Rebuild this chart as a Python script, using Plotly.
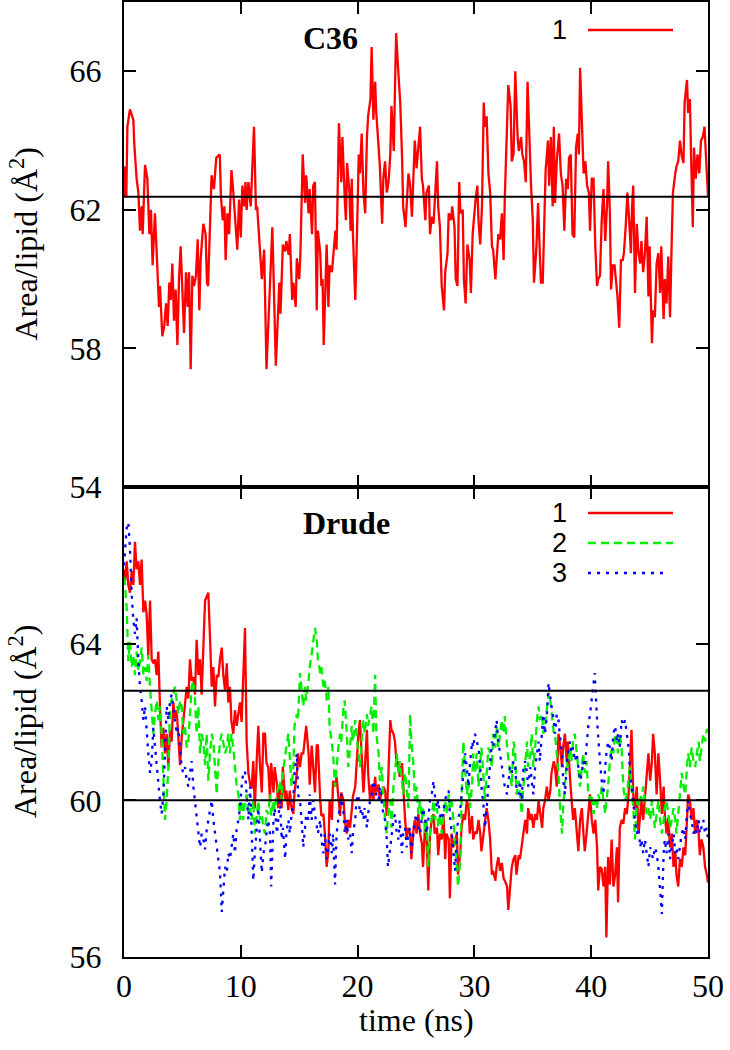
import plotly.graph_objects as go

# ---------------- data (time in ns, area per lipid in A^2) ----------------
c36_run1 = [(0.0,62.4),(0.09,63.25),(0.2,62.4),(0.29,64.4),(0.51,64.9),(0.66,64.7),(0.8,64.6),(0.88,63.9),(1.08,62.9),(1.23,62.5),(1.37,61.4),(1.51,62.1),(1.6,61.3),(1.8,63.3),(2.0,62.9),(2.17,61.3),(2.31,62.0),(2.45,60.4),(2.65,61.9),(2.8,60.75),(3.0,59.2),(3.08,59.8),(3.28,58.35),(3.45,58.65),(3.6,59.3),(3.74,58.65),(3.88,59.9),(4.0,59.4),(4.14,60.45),(4.28,58.8),(4.42,59.7),(4.57,58.1),(4.71,60.0),(4.85,60.95),(4.99,59.8),(5.14,58.45),(5.31,60.2),(5.45,59.2),(5.57,60.2),(5.71,57.4),(5.85,60.1),(6.0,59.8),(6.16,60.1),(6.31,61.15),(6.45,59.1),(6.56,60.55),(6.79,61.6),(6.99,61.3),(7.1,59.9),(7.2,59.8),(7.36,61.5),(7.5,63.0),(7.7,62.6),(7.9,63.5),(8.2,63.6),(8.3,62.4),(8.45,61.7),(8.6,62.1),(8.7,60.55),(8.85,61.9),(9.0,61.3),(9.2,63.15),(9.36,62.5),(9.5,61.7),(9.7,60.85),(9.85,62.3),(10.0,61.2),(10.13,62.7),(10.3,62.1),(10.4,62.8),(10.5,62.0),(10.65,62.8),(10.85,62.1),(11.13,64.4),(11.3,62.0),(11.4,62.1),(11.8,60.0),(12.0,60.85),(12.2,57.4),(12.7,61.5),(13.0,57.5),(13.3,59.9),(13.4,59.0),(13.6,61.0),(13.8,60.8),(13.9,61.1),(14.1,60.7),(14.2,61.3),(14.4,59.4),(14.5,59.9),(14.7,59.2),(14.8,60.6),(15.0,60.0),(15.1,60.7),(15.3,63.6),(15.5,62.2),(15.6,63.0),(15.8,61.9),(15.9,62.6),(16.1,61.3),(16.2,62.7),(16.35,62.8),(16.5,59.1),(16.6,61.4),(16.8,60.75),(16.9,59.8),(17.0,60.0),(17.1,58.1),(17.35,61.0),(17.5,59.2),(17.6,60.4),(17.8,60.2),(18.1,61.4),(18.2,60.85),(18.4,64.5),(18.6,62.8),(18.7,64.1),(18.9,62.3),(19.0,61.7),(19.1,63.35),(19.3,62.5),(19.4,61.4),(19.5,62.9),(19.6,61.3),(19.8,59.4),(19.9,60.6),(20.1,63.6),(20.2,63.05),(20.35,64.2),(20.5,62.5),(20.65,61.9),(20.8,64.1),(20.9,64.7),(21.1,65.2),(21.2,66.7),(21.35,64.6),(21.5,65.7),(21.6,64.8),(21.8,63.6),(21.9,63.3),(22.1,61.6),(22.2,62.9),(22.35,63.4),(22.5,62.5),(22.65,62.8),(22.8,63.6),(22.9,65.0),(23.1,63.7),(23.2,65.5),(23.3,67.1),(23.5,65.9),(23.65,65.1),(23.8,63.6),(23.9,62.1),(24.1,61.5),(24.2,62.3),(24.35,63.05),(24.5,62.7),(24.65,61.8),(24.8,63.15),(24.9,64.0),(25.05,63.2),(25.2,63.8),(25.35,64.4),(25.5,62.9),(25.6,62.7),(25.8,61.7),(25.9,62.5),(26.1,62.7),(26.2,61.3),(26.35,61.8),(26.5,61.6),(26.6,62.2),(26.8,63.4),(26.9,62.1),(27.05,61.5),(27.2,59.8),(27.4,59.1),(27.5,60.2),(27.7,60.75),(27.8,61.9),(28.0,61.7),(28.1,62.1),(28.3,61.5),(28.4,60.0),(28.55,59.8),(28.7,62.8),(28.8,61.9),(29.0,62.0),(29.1,60.0),(29.25,59.3),(29.4,61.0),(29.6,60.55),(29.7,59.6),(29.85,61.3),(30.0,62.1),(30.1,62.3),(30.25,62.7),(30.35,61.7),(30.5,61.0),(30.65,62.1),(30.8,65.1),(30.9,64.4),(31.05,64.7),(31.2,63.05),(31.35,62.5),(31.5,60.95),(31.6,60.85),(31.8,60.0),(31.9,60.55),(32.05,61.3),(32.2,61.15),(32.35,61.9),(32.5,60.55),(32.6,62.3),(32.8,64.5),(32.9,65.6),(33.1,65.0),(33.2,63.4),(33.35,63.6),(33.5,66.0),(33.7,64.1),(33.8,63.7),(34.0,64.1),(34.1,63.6),(34.25,63.4),(34.4,62.8),(34.55,65.7),(34.7,64.1),(34.85,62.7),(35.0,61.7),(35.1,59.9),(35.3,60.85),(35.45,62.2),(35.6,60.75),(35.7,59.9),(35.85,59.9),(36.0,61.5),(36.1,63.15),(36.3,64.0),(36.4,62.7),(36.55,64.1),(36.7,62.1),(36.8,64.4),(36.9,62.2),(37.05,63.4),(37.25,64.2),(37.4,63.05),(37.55,62.7),(37.7,61.4),(37.85,62.9),(38.0,62.6),(38.1,63.5),(38.25,63.6),(38.4,61.3),(38.55,61.2),(38.7,63.8),(38.85,64.2),(38.95,63.6),(39.05,66.1),(39.2,64.3),(39.35,63.05),(39.5,63.4),(39.65,62.7),(39.8,62.5),(39.9,61.4),(40.05,62.9),(40.2,62.9),(40.35,60.95),(40.5,59.8),(40.6,60.0),(40.75,60.1),(40.9,61.7),(41.05,62.6),(41.2,61.1),(41.35,62.1),(41.45,63.4),(41.6,61.9),(41.7,59.7),(41.85,60.4),(42.0,60.4),(42.1,60.1),(42.25,59.5),(42.4,58.6),(42.55,60.55),(42.7,60.55),(42.8,60.75),(42.95,61.5),(43.1,62.5),(43.25,61.7),(43.4,60.75),(43.5,62.1),(43.6,62.7),(43.75,59.6),(43.9,61.6),(44.05,60.75),(44.2,60.45),(44.3,61.1),(44.45,60.2),(44.6,60.75),(44.75,61.8),(44.9,59.5),(45.0,60.95),(45.2,58.15),(45.3,59.1),(45.45,58.9),(45.6,60.45),(45.75,60.75),(45.9,59.6),(46.0,60.95),(46.2,58.85),(46.3,60.0),(46.45,59.3),(46.6,60.65),(46.75,58.9),(46.9,61.2),(47.0,62.5),(47.2,63.05),(47.3,63.25),(47.45,63.4),(47.6,64.0),(47.75,63.55),(47.9,63.35),(48.0,65.1),(48.2,65.75),(48.3,64.8),(48.45,65.2),(48.55,63.6),(48.7,61.5),(48.8,63.8),(48.95,62.9),(49.1,63.6),(49.25,63.05),(49.4,64.0),(49.55,64.1),(49.7,64.4),(49.85,63.25),(50.0,62.4)]

drude_run1 = [(0.0,65.9),(0.09,65.6),(0.23,66.1),(0.37,65.5),(0.51,65.3),(0.66,65.85),(0.8,65.5),(0.94,66.6),(1.08,65.9),(1.23,66.1),(1.37,65.5),(1.51,66.15),(1.66,64.8),(1.8,65.1),(1.94,64.75),(2.08,63.7),(2.23,65.1),(2.37,63.6),(2.51,63.5),(2.65,63.6),(2.8,63.2),(2.94,63.8),(3.08,62.4),(3.22,61.35),(3.37,61.85),(3.51,61.2),(3.65,61.7),(3.8,60.85),(3.94,61.8),(4.08,61.5),(4.22,62.5),(4.37,62.1),(4.51,62.3),(4.65,61.7),(4.8,60.9),(4.94,61.6),(5.08,62.0),(5.22,62.5),(5.37,62.9),(5.51,62.6),(5.65,63.6),(5.79,63.05),(5.94,63.15),(6.08,62.7),(6.22,64.1),(6.37,63.2),(6.51,63.6),(6.65,62.7),(6.79,63.8),(6.94,65.1),(7.08,65.2),(7.22,65.3),(7.37,64.1),(7.51,62.9),(7.65,63.4),(7.79,62.4),(7.94,63.2),(8.08,63.15),(8.22,63.6),(8.37,63.9),(8.5,63.2),(8.65,62.8),(8.8,63.5),(8.93,62.5),(9.07,62.9),(9.2,62.0),(9.36,61.7),(9.5,62.3),(9.65,61.9),(9.8,62.2),(9.93,62.5),(10.07,62.0),(10.2,62.9),(10.36,64.4),(10.5,61.5),(10.65,60.7),(10.8,60.4),(10.93,60.3),(11.07,61.0),(11.2,59.8),(11.36,61.0),(11.5,61.9),(11.64,60.9),(11.8,60.2),(11.93,61.7),(12.07,61.7),(12.2,60.95),(12.35,60.85),(12.5,60.0),(12.6,60.95),(12.8,60.2),(12.9,60.85),(13.1,60.4),(13.2,59.8),(13.35,60.3),(13.5,59.8),(13.6,60.85),(13.8,60.0),(13.9,60.25),(14.07,59.75),(14.2,60.25),(14.35,59.8),(14.5,59.65),(14.6,60.2),(14.8,60.7),(14.9,61.2),(15.07,60.85),(15.2,61.2),(15.35,61.2),(15.5,61.7),(15.6,61.9),(15.8,61.2),(15.9,60.4),(16.07,61.4),(16.2,60.85),(16.35,60.2),(16.5,61.4),(16.6,61.4),(16.8,60.0),(16.9,59.6),(17.07,59.65),(17.2,59.15),(17.35,58.3),(17.5,58.7),(17.6,60.0),(17.8,59.5),(17.9,60.5),(18.07,60.35),(18.2,60.6),(18.35,60.0),(18.5,59.6),(18.6,60.2),(18.8,60.0),(18.9,59.5),(19.07,59.15),(19.2,59.5),(19.35,59.3),(19.5,59.75),(19.6,60.1),(19.8,60.35),(19.9,61.0),(20.07,61.7),(20.2,62.05),(20.35,61.2),(20.5,60.2),(20.6,60.7),(20.8,61.8),(20.9,60.7),(21.07,60.0),(21.2,60.4),(21.35,60.0),(21.5,60.6),(21.6,60.2),(21.8,60.4),(21.9,60.0),(22.07,60.2),(22.2,60.35),(22.35,60.25),(22.5,59.6),(22.6,60.35),(22.8,62.05),(22.9,61.8),(23.07,61.7),(23.2,61.5),(23.35,60.85),(23.5,61.0),(23.6,60.6),(23.8,60.95),(23.9,60.25),(24.07,59.5),(24.2,59.0),(24.35,59.3),(24.5,59.15),(24.6,58.5),(24.8,59.3),(24.9,59.5),(25.05,59.15),(25.2,59.65),(25.35,59.15),(25.5,58.9),(25.6,58.3),(25.8,59.5),(25.9,59.15),(26.05,57.7),(26.2,59.15),(26.35,59.5),(26.5,59.65),(26.6,59.15),(26.8,59.3),(26.9,58.6),(27.05,59.15),(27.2,59.0),(27.35,59.65),(27.5,58.5),(27.6,59.15),(27.8,59.0),(27.9,57.5),(28.05,59.15),(28.2,58.8),(28.35,59.0),(28.5,59.15),(28.6,58.1),(28.8,58.7),(28.9,59.3),(29.05,59.65),(29.2,59.5),(29.35,60.0),(29.5,59.8),(29.6,59.15),(29.8,59.6),(29.9,59.0),(30.05,59.2),(30.2,59.15),(30.35,59.5),(30.5,59.15),(30.6,58.7),(30.8,59.15),(30.9,59.5),(31.05,59.8),(31.2,59.5),(31.35,59.0),(31.5,58.1),(31.6,58.2),(31.8,57.95),(31.9,58.3),(32.05,58.55),(32.2,58.2),(32.35,58.4),(32.5,58.0),(32.6,57.95),(32.8,57.8),(32.9,57.2),(33.05,57.8),(33.2,58.3),(33.35,58.5),(33.5,58.6),(33.6,58.1),(33.8,58.6),(33.9,58.5),(34.05,58.8),(34.2,59.15),(34.35,59.5),(34.5,59.15),(34.6,59.8),(34.8,59.5),(34.9,59.65),(35.05,59.3),(35.2,59.65),(35.35,59.5),(35.5,60.0),(35.6,59.75),(35.8,59.3),(35.9,59.8),(36.05,60.0),(36.2,60.35),(36.35,60.0),(36.5,60.25),(36.6,60.7),(36.8,61.0),(36.9,60.85),(37.05,60.35),(37.2,61.7),(37.3,61.5),(37.5,60.85),(37.6,61.35),(37.75,61.7),(37.9,61.0),(38.0,61.5),(38.2,60.5),(38.3,60.0),(38.45,59.5),(38.6,59.8),(38.75,59.15),(38.9,58.7),(39.05,59.5),(39.2,59.8),(39.3,59.3),(39.45,58.7),(39.6,59.15),(39.75,59.65),(39.9,60.15),(40.05,59.5),(40.2,59.15),(40.35,59.5),(40.5,58.8),(40.6,57.7),(40.75,58.3),(40.9,58.25),(41.05,57.8),(41.2,58.3),(41.3,56.5),(41.45,58.55),(41.6,57.85),(41.75,59.0),(41.9,57.8),(42.05,58.1),(42.2,58.8),(42.3,57.4),(42.45,59.3),(42.6,59.5),(42.75,59.4),(42.9,59.8),(43.05,59.65),(43.2,60.15),(43.3,60.7),(43.45,61.8),(43.6,60.15),(43.75,59.75),(43.9,60.35),(44.05,59.15),(44.2,59.65),(44.3,60.0),(44.45,59.5),(44.6,60.15),(44.75,60.7),(44.9,61.2),(45.05,60.5),(45.2,61.0),(45.3,61.7),(45.45,61.2),(45.6,60.15),(45.75,61.2),(45.9,60.5),(46.05,59.65),(46.2,60.35),(46.3,59.65),(46.45,59.15),(46.6,59.55),(46.75,58.8),(46.9,59.15),(47.05,58.3),(47.2,58.7),(47.3,58.1),(47.45,57.8),(47.6,58.5),(47.75,58.3),(47.9,58.8),(48.05,58.6),(48.2,59.5),(48.3,60.15),(48.45,60.0),(48.6,59.5),(48.75,59.8),(48.9,59.15),(49.05,59.5),(49.2,59.15),(49.3,58.6),(49.45,59.0),(49.6,58.8),(49.75,58.3),(49.9,58.1),(50.0,57.9)]

drude_run2 = [(0.0,65.7),(0.09,65.5),(0.23,64.9),(0.37,63.55),(0.51,64.05),(0.66,63.4),(0.8,63.7),(0.94,63.2),(1.08,63.8),(1.23,63.3),(1.37,63.55),(1.51,63.9),(1.66,63.2),(1.8,63.4),(1.94,63.05),(2.08,63.7),(2.23,62.9),(2.37,62.4),(2.51,61.7),(2.65,62.2),(2.8,62.55),(2.94,62.05),(3.08,62.4),(3.22,61.7),(3.37,60.35),(3.51,59.5),(3.65,60.0),(3.8,60.85),(3.94,62.4),(4.08,62.55),(4.22,62.7),(4.37,62.9),(4.51,62.55),(4.65,62.2),(4.8,62.55),(4.94,62.4),(5.08,61.7),(5.22,61.9),(5.37,61.35),(5.51,61.5),(5.65,62.2),(5.79,62.9),(5.94,63.05),(6.08,62.55),(6.22,61.7),(6.37,62.4),(6.51,61.2),(6.65,61.7),(6.79,61.5),(6.94,60.9),(7.08,61.7),(7.22,60.5),(7.37,61.2),(7.51,61.7),(7.65,61.5),(7.79,60.85),(7.94,60.15),(8.08,61.0),(8.22,61.5),(8.37,61.7),(8.5,61.5),(8.65,61.2),(8.8,61.35),(8.93,61.7),(9.07,61.2),(9.2,61.7),(9.36,61.35),(9.5,60.85),(9.65,60.35),(9.8,60.15),(9.93,59.5),(10.07,60.0),(10.2,59.5),(10.36,60.0),(10.5,60.15),(10.65,59.65),(10.8,59.8),(10.93,59.5),(11.07,60.0),(11.2,59.15),(11.36,59.65),(11.5,60.0),(11.64,59.5),(11.8,59.65),(11.93,59.3),(12.07,59.15),(12.2,59.75),(12.35,59.65),(12.5,60.15),(12.6,59.6),(12.8,60.0),(12.9,59.75),(13.1,60.15),(13.2,60.35),(13.35,60.5),(13.5,60.0),(13.6,60.7),(13.8,61.2),(13.9,61.35),(14.07,61.7),(14.2,61.0),(14.35,60.35),(14.5,60.85),(14.6,61.9),(14.8,62.2),(14.9,62.05),(15.07,63.25),(15.2,62.75),(15.35,62.4),(15.5,62.9),(15.6,62.55),(15.8,63.05),(15.9,63.4),(16.07,63.75),(16.2,64.1),(16.35,64.4),(16.5,64.1),(16.6,63.6),(16.8,63.25),(16.9,63.4),(17.07,62.9),(17.2,63.05),(17.35,62.55),(17.5,62.9),(17.6,61.9),(17.8,61.5),(17.9,61.2),(18.07,60.35),(18.2,60.85),(18.35,61.35),(18.5,61.7),(18.6,61.5),(18.8,62.4),(18.9,62.55),(19.07,61.7),(19.2,60.85),(19.35,61.35),(19.5,61.9),(19.6,61.5),(19.8,62.05),(19.9,61.7),(20.07,61.2),(20.2,60.85),(20.35,61.5),(20.5,62.05),(20.6,61.7),(20.8,62.2),(20.9,61.9),(21.07,62.2),(21.2,62.4),(21.35,61.7),(21.5,63.2),(21.6,61.7),(21.8,61.2),(21.9,60.5),(22.07,60.85),(22.2,60.15),(22.35,59.5),(22.5,59.15),(22.6,59.65),(22.8,60.0),(22.9,59.3),(23.07,60.35),(23.2,60.7),(23.35,61.2),(23.5,60.7),(23.6,61.0),(23.8,60.5),(23.9,60.15),(24.07,60.7),(24.2,60.35),(24.35,59.8),(24.5,62.2),(24.6,61.5),(24.8,60.85),(24.9,60.0),(25.05,60.35),(25.2,59.65),(25.35,60.0),(25.5,59.5),(25.6,59.8),(25.8,59.15),(25.9,59.5),(26.05,58.3),(26.2,59.15),(26.35,59.65),(26.5,60.0),(26.6,59.5),(26.8,59.8),(26.9,59.3),(27.05,59.65),(27.2,59.15),(27.35,59.5),(27.5,60.0),(27.6,59.65),(27.8,60.15),(27.9,59.8),(28.05,60.0),(28.2,59.5),(28.35,59.0),(28.5,58.3),(28.6,57.8),(28.8,58.5),(28.9,60.0),(29.05,61.5),(29.2,60.85),(29.35,60.15),(29.5,60.5),(29.6,59.8),(29.8,60.35),(29.9,61.2),(30.05,60.7),(30.2,61.2),(30.35,60.35),(30.5,61.0),(30.6,61.35),(30.8,60.5),(30.9,60.0),(31.05,60.7),(31.2,61.35),(31.35,61.2),(31.5,60.85),(31.6,61.7),(31.8,61.35),(31.9,61.9),(32.05,61.35),(32.2,61.7),(32.35,62.05),(32.5,61.7),(32.6,62.15),(32.8,61.35),(32.9,61.0),(33.05,60.7),(33.2,60.35),(33.35,61.5),(33.5,61.2),(33.6,60.15),(33.8,60.5),(33.9,60.15),(34.05,59.65),(34.2,60.35),(34.35,60.85),(34.5,61.5),(34.6,60.85),(34.8,61.2),(34.9,61.7),(35.05,60.85),(35.2,61.35),(35.35,62.05),(35.5,62.4),(35.6,62.05),(35.8,62.2),(35.9,61.7),(36.05,61.9),(36.2,62.4),(36.35,62.75),(36.5,62.55),(36.6,62.2),(36.8,61.7),(36.9,61.7),(37.05,61.2),(37.2,60.7),(37.3,60.0),(37.5,59.15),(37.6,59.8),(37.75,60.5),(37.9,61.0),(38.0,60.85),(38.2,61.35),(38.3,61.0),(38.45,61.5),(38.6,61.7),(38.75,61.2),(38.9,60.85),(39.05,60.35),(39.2,60.85),(39.3,61.2),(39.45,60.7),(39.6,61.0),(39.75,60.15),(39.9,60.0),(40.05,60.15),(40.2,59.65),(40.35,60.0),(40.5,59.8),(40.6,60.15),(40.75,60.0),(40.9,60.35),(41.05,60.0),(41.2,59.65),(41.3,60.0),(41.45,60.35),(41.6,61.0),(41.75,61.35),(41.9,61.2),(42.05,61.7),(42.2,61.5),(42.3,61.2),(42.45,61.7),(42.6,61.35),(42.75,60.35),(42.9,60.0),(43.05,60.15),(43.2,60.7),(43.3,60.85),(43.45,60.35),(43.6,59.8),(43.75,59.0),(43.9,60.0),(44.05,59.8),(44.2,60.15),(44.3,60.0),(44.45,60.35),(44.6,60.0),(44.75,59.65),(44.9,59.8),(45.05,59.5),(45.2,60.0),(45.3,59.65),(45.45,59.3),(45.6,59.65),(45.75,60.0),(45.9,59.5),(46.05,59.15),(46.2,59.5),(46.3,59.8),(46.45,60.0),(46.6,59.65),(46.75,59.3),(46.9,59.5),(47.05,59.8),(47.2,59.5),(47.3,59.15),(47.45,59.65),(47.6,60.15),(47.75,60.7),(47.9,60.35),(48.05,60.15),(48.2,60.85),(48.3,61.2),(48.45,60.85),(48.6,61.35),(48.75,61.0),(48.9,60.85),(49.05,61.2),(49.2,61.5),(49.3,61.0),(49.45,61.35),(49.6,61.7),(49.75,61.5),(49.9,61.8),(50.0,61.8)]

drude_run3 = [(0.0,66.0),(0.09,66.45),(0.23,66.95),(0.37,67.1),(0.51,66.45),(0.66,65.25),(0.8,64.6),(0.94,64.25),(1.08,64.65),(1.23,63.55),(1.37,62.9),(1.51,62.55),(1.66,62.05),(1.8,62.4),(1.94,61.7),(2.08,61.2),(2.23,60.7),(2.37,61.0),(2.51,61.85),(2.65,61.35),(2.8,60.85),(2.94,60.35),(3.08,60.0),(3.22,59.65),(3.37,60.15),(3.51,61.2),(3.65,62.4),(3.8,62.05),(3.94,62.55),(4.08,62.7),(4.22,62.4),(4.37,62.05),(4.51,61.7),(4.65,61.85),(4.8,61.2),(4.94,60.85),(5.08,60.7),(5.22,60.85),(5.37,60.5),(5.51,60.35),(5.65,60.7),(5.79,61.0),(5.94,60.35),(6.08,60.0),(6.22,59.65),(6.37,59.15),(6.51,58.8),(6.65,59.15),(6.79,59.0),(6.94,58.75),(7.08,59.25),(7.22,59.5),(7.37,59.8),(7.51,60.0),(7.65,59.5),(7.79,59.15),(7.94,58.8),(8.08,58.5),(8.22,58.15),(8.37,57.15),(8.5,57.8),(8.65,58.3),(8.8,58.15),(8.93,58.65),(9.07,58.5),(9.2,58.8),(9.36,59.15),(9.5,58.65),(9.65,59.3),(9.8,59.5),(9.93,59.8),(10.07,60.35),(10.2,60.7),(10.36,60.75),(10.5,60.15),(10.65,59.5),(10.8,60.35),(10.93,59.0),(11.07,57.95),(11.2,58.65),(11.36,59.3),(11.5,59.8),(11.64,59.0),(11.8,58.15),(11.93,58.65),(12.07,58.8),(12.2,59.15),(12.35,59.5),(12.5,59.15),(12.6,57.8),(12.8,59.5),(12.9,59.8),(13.1,59.15),(13.2,59.5),(13.35,60.0),(13.5,59.0),(13.6,59.3),(13.8,58.5),(13.9,59.15),(14.07,59.5),(14.2,59.15),(14.35,59.65),(14.5,60.0),(14.6,60.7),(14.8,61.2),(14.9,60.15),(15.07,60.0),(15.2,59.5),(15.35,58.8),(15.5,59.3),(15.6,59.65),(15.8,59.5),(15.9,60.15),(16.07,59.5),(16.2,60.0),(16.35,59.65),(16.5,59.3),(16.6,59.15),(16.8,59.5),(16.9,59.0),(17.07,58.65),(17.2,59.15),(17.35,58.5),(17.5,58.8),(17.6,59.15),(17.8,58.65),(17.9,59.15),(18.07,57.85),(18.2,59.15),(18.35,59.5),(18.5,59.8),(18.6,60.15),(18.8,59.65),(18.9,59.15),(19.07,59.5),(19.2,59.0),(19.35,59.15),(19.5,58.65),(19.6,59.15),(19.8,59.5),(19.9,60.0),(20.07,60.15),(20.2,59.65),(20.35,59.8),(20.5,59.5),(20.6,59.8),(20.8,59.3),(20.9,59.65),(21.07,60.0),(21.2,60.15),(21.35,60.5),(21.5,60.35),(21.6,60.15),(21.8,60.0),(21.9,60.35),(22.07,60.0),(22.2,59.65),(22.35,59.5),(22.5,59.0),(22.6,58.3),(22.8,58.8),(22.9,59.15),(23.07,59.5),(23.2,59.65),(23.35,59.15),(23.5,59.0),(23.6,59.5),(23.8,58.65),(23.9,59.15),(24.07,59.3),(24.2,58.8),(24.35,59.15),(24.5,59.3),(24.6,58.65),(24.8,59.15),(24.9,59.5),(25.05,59.65),(25.2,59.3),(25.35,59.15),(25.5,59.5),(25.6,59.8),(25.8,59.5),(25.9,59.15),(26.05,59.5),(26.2,60.0),(26.35,60.15),(26.5,60.5),(26.6,60.15),(26.8,59.8),(26.9,60.0),(27.05,59.65),(27.2,59.5),(27.35,59.8),(27.5,60.0),(27.6,60.15),(27.8,60.25),(27.9,59.65),(28.05,59.15),(28.2,58.65),(28.35,58.2),(28.5,59.15),(28.6,59.5),(28.8,59.8),(28.9,60.15),(29.05,60.5),(29.2,61.2),(29.35,60.85),(29.5,60.35),(29.6,60.85),(29.8,61.5),(29.9,61.35),(30.05,61.7),(30.2,61.5),(30.35,61.35),(30.5,60.85),(30.6,60.35),(30.8,59.8),(30.9,59.3),(31.05,59.8),(31.2,60.35),(31.35,61.0),(31.5,61.5),(31.6,61.35),(31.8,61.9),(31.9,62.05),(32.05,61.5),(32.2,61.2),(32.35,60.85),(32.5,60.5),(32.6,60.35),(32.8,60.15),(32.9,60.5),(33.05,60.85),(33.2,60.7),(33.35,61.0),(33.5,60.85),(33.6,60.35),(33.8,60.15),(33.9,60.5),(34.05,60.0),(34.2,60.85),(34.35,61.0),(34.5,60.7),(34.6,60.35),(34.8,60.85),(34.9,60.5),(35.05,60.15),(35.2,60.85),(35.35,61.2),(35.5,61.5),(35.6,61.0),(35.8,61.7),(35.9,62.2),(36.05,61.7),(36.2,62.15),(36.35,63.0),(36.5,62.55),(36.6,62.4),(36.8,62.05),(36.9,61.7),(37.05,62.2),(37.2,62.05),(37.3,61.7),(37.5,61.2),(37.6,60.5),(37.75,60.15),(37.9,60.85),(38.0,61.2),(38.2,61.5),(38.3,61.2),(38.45,61.35),(38.6,61.0),(38.75,61.2),(38.9,60.85),(39.05,60.5),(39.2,60.7),(39.3,61.0),(39.45,60.85),(39.6,61.5),(39.75,61.9),(39.9,62.2),(40.05,62.55),(40.2,62.9),(40.3,63.25),(40.5,62.05),(40.6,61.5),(40.75,61.0),(40.9,60.5),(41.05,60.15),(41.2,60.85),(41.3,61.2),(41.45,61.5),(41.6,61.35),(41.75,61.0),(41.9,61.7),(42.05,61.9),(42.2,61.5),(42.3,61.7),(42.45,61.35),(42.6,62.05),(42.75,61.9),(42.9,62.05),(43.05,61.7),(43.2,61.35),(43.3,60.85),(43.45,60.35),(43.6,60.0),(43.75,59.5),(43.9,59.15),(44.05,59.3),(44.2,58.8),(44.3,59.0),(44.45,58.65),(44.6,59.0),(44.75,58.65),(44.9,58.3),(45.05,58.8),(45.2,58.65),(45.3,58.5),(45.45,58.8),(45.6,58.65),(45.75,58.3),(45.9,57.8),(46.05,57.1),(46.2,58.65),(46.3,59.0),(46.45,58.65),(46.6,59.15),(46.75,58.5),(46.9,58.8),(47.05,59.15),(47.2,58.65),(47.3,58.8),(47.45,58.5),(47.6,58.8),(47.75,59.15),(47.9,59.3),(48.05,59.0),(48.2,59.65),(48.3,60.0),(48.45,59.65),(48.6,59.5),(48.75,59.15),(48.9,59.3),(49.05,59.15),(49.2,59.5),(49.3,59.15),(49.45,59.3),(49.6,59.5),(49.75,59.15),(49.9,59.3),(50.0,59.0)]

c36_reference = [62.38]
drude_reference = [62.8, 60.0]

x_ticks = [0, 10, 20, 30, 40, 50]
top_y_ticks = [54, 58, 62, 66]
bottom_y_ticks = [56, 60, 64]
legend_labels = ["1", "2", "3"]

# ---------------- layout geometry ----------------
W, H = 730, 1050
LM, RM, TM, BM = 124, 22, 2, 93
PW, PH = W - LM - RM, H - TM - BM
PANEL_SPLIT = (957 - 487) / PH


def px_x(px):
    return (px - LM) / PW


def px_y(py):
    return (H - BM - py) / PH


SERIF = "Liberation Serif"
SANS = "Liberation Sans"
COLORS = ["#ff0000", "#00ee00", "#0000ff"]
DASHES = ["solid", "8px,5px", "3px,6px"]
LW = 2.3

fig = go.Figure()


def unzip(series):
    return [p[0] for p in series], [p[1] for p in series]


t, v = unzip(c36_run1)
fig.add_trace(go.Scatter(x=t, y=v, mode="lines", xaxis="x", yaxis="y",
                         line=dict(color=COLORS[0], width=LW), showlegend=False))

for i, series in enumerate([drude_run1, drude_run2, drude_run3]):
    t, v = unzip(series)
    fig.add_trace(go.Scatter(x=t, y=v, mode="lines", xaxis="x2", yaxis="y2",
                             line=dict(color=COLORS[i], width=LW, dash=DASHES[i]),
                             showlegend=False))

for yv in c36_reference:
    fig.add_shape(type="line", xref="x domain", yref="y", x0=0, x1=1, y0=yv, y1=yv,
                  line=dict(color="black", width=2), layer="above")
for yv in drude_reference:
    fig.add_shape(type="line", xref="x2 domain", yref="y2", x0=0, x1=1, y0=yv, y1=yv,
                  line=dict(color="black", width=2), layer="above")

axis_style = dict(showline=True, linecolor="black", linewidth=2, mirror="ticks",
                  ticks="inside", ticklen=12, tickwidth=2, tickcolor="black",
                  showgrid=False, zeroline=False, automargin=False,
                  tickfont=dict(family=SERIF, size=32, color="black"))

fig.update_layout(
    width=W, height=H,
    margin=dict(l=LM, r=RM, t=TM, b=BM, pad=0, autoexpand=False),
    paper_bgcolor="white", plot_bgcolor="white",
    showlegend=False,
    xaxis=dict(domain=[0, 1], anchor="y", range=[0, 50], tickvals=x_ticks,
               showticklabels=False, **axis_style),
    yaxis=dict(domain=[PANEL_SPLIT, 1], anchor="x", range=[54, 68], tickvals=top_y_ticks,
               ticklabelstandoff=14, **axis_style),
    xaxis2=dict(domain=[0, 1], anchor="y2", range=[0, 50], tickvals=x_ticks,
                ticktext=[str(x) for x in x_ticks], ticklabelstandoff=0, **axis_style),
    yaxis2=dict(domain=[0, PANEL_SPLIT], anchor="x2", range=[56, 68], tickvals=bottom_y_ticks,
                ticklabelstandoff=14, **axis_style),
)

ann = []
ytitle = "Area/lipid (Å<sup>2</sup>)"
ann.append(dict(text=ytitle, x=px_x(23), y=px_y(244.5), xref="paper", yref="paper",
                textangle=-90, showarrow=False, xanchor="center", yanchor="middle",
                font=dict(family=SERIF, size=32, color="black")))
ann.append(dict(text=ytitle, x=px_x(23), y=px_y(722), xref="paper", yref="paper",
                textangle=-90, showarrow=False, xanchor="center", yanchor="middle",
                font=dict(family=SERIF, size=32, color="black")))
ann.append(dict(text="time (ns)", x=px_x(416), y=px_y(1020), xref="paper", yref="paper",
                showarrow=False, xanchor="center", yanchor="middle",
                font=dict(family=SERIF, size=32, color="black")))
ann.append(dict(text="<b>C36</b>", x=px_x(330), y=px_y(38), xref="paper", yref="paper",
                showarrow=False, xanchor="center", yanchor="middle",
                font=dict(family=SERIF, size=32, color="black")))
ann.append(dict(text="<b>Drude</b>", x=px_x(346), y=px_y(523), xref="paper", yref="paper",
                showarrow=False, xanchor="center", yanchor="middle",
                font=dict(family=SERIF, size=32, color="black")))

# legend keys (gnuplot style: label left of sample line)
legend_rows = [(30, 0)] + [(513 + 30 * i, i) for i in range(3)]
for py, i in legend_rows:
    ann.append(dict(text=legend_labels[i], x=px_x(569), y=px_y(py), xref="paper", yref="paper",
                    showarrow=False, xanchor="right", yanchor="middle",
                    font=dict(family=SANS, size=27, color="black")))
    fig.add_shape(type="line", xref="paper", yref="paper",
                  x0=px_x(588), x1=px_x(673 if i < 2 else 668), y0=px_y(py), y1=px_y(py),
                  line=dict(color=COLORS[i], width=LW, dash=DASHES[i]))

fig.update_layout(annotations=ann)
fig.write_html("out.html", config={"displayModeBar": False, "staticPlot": True},
               post_script="document.body.style.margin='0';document.body.style.overflow='hidden';")
